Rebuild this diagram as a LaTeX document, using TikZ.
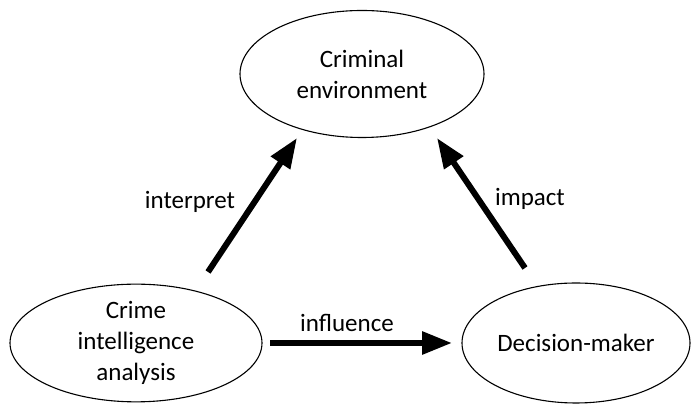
\documentclass[tikz,border=0pt]{standalone}
\usepackage{fontspec}
\setmainfont{Carlito}
\usepackage{tikz}
\usetikzlibrary{shapes.geometric, arrows.meta}

\begin{document}
\begin{tikzpicture}[
    x=1pt, y=1pt,
    % Ellipse styles
    actor/.style={
        ellipse,
        draw=black,
        line width=1.1pt,
        inner sep=0pt,
        align=center,
        font=\fontsize{25}{31}\selectfont
    },
    flow/.style={
        line width=6pt,
        -{Triangle[length=30pt,width=22pt]}
    },
    flowlabel/.style={font=\fontsize{25}{31}\selectfont, inner sep=0pt}
]
\useasboundingbox (0,0) rectangle (694,406);

% The three actors
\node (env) at (362,332) [actor, minimum width=244, minimum height=127] {Criminal\\environment};
\node (cia) at (136,63) [actor, minimum width=252, minimum height=117] {Crime\\intelligence\\analysis};
\node (dm) at (576,63) [actor, minimum width=228, minimum height=120] {Decision-maker};

% Arrow end points
\coordinate (interpretTail) at (208,134);
\coordinate (interpretTip) at (297,268);
\coordinate (impactTail) at (525,138);
\coordinate (impactTip) at (437,268);
\coordinate (influenceTail) at (270,63);
\coordinate (influenceTip) at (452,63);

% Arrows
\draw[flow] (interpretTail) -- (interpretTip);
\draw[flow] (impactTail) -- (impactTip);
\draw[flow] (influenceTail) -- (influenceTip);

% Labels
\node (interpretLabel) at (190,204) [flowlabel] {interpret};
\node (impactLabel) at (530,207) [flowlabel] {impact};
\node (influenceLabel) at (347,83) [flowlabel] {influence};
\end{tikzpicture}
\end{document}
